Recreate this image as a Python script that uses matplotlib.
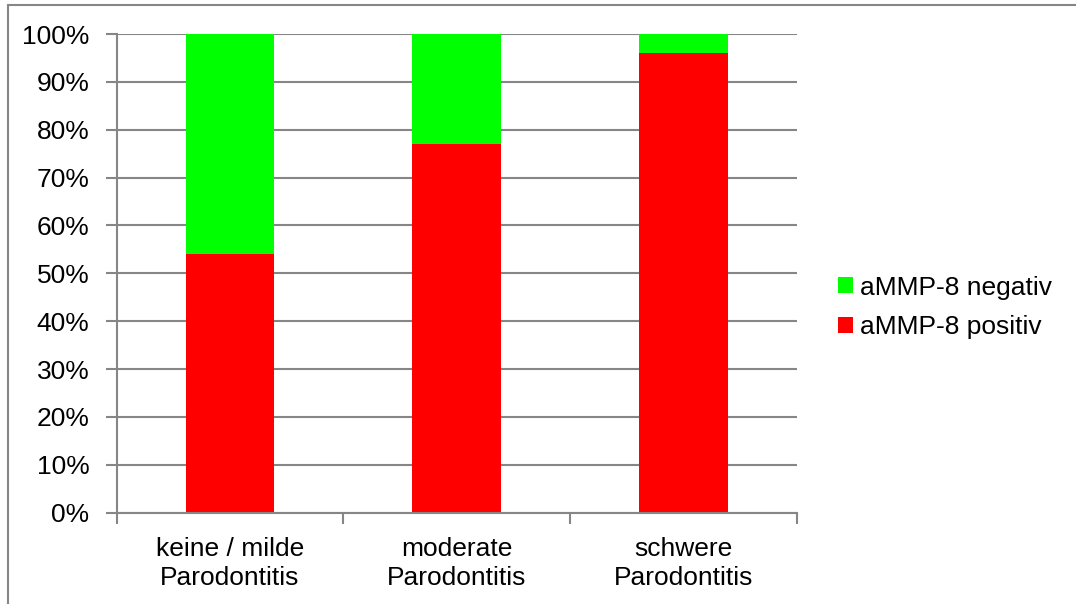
import matplotlib
matplotlib.use("Agg")
import matplotlib.pyplot as plt
from matplotlib.patches import Rectangle, Patch
from matplotlib.ticker import FixedLocator

categories = ["keine / milde\nParodontitis", "moderate\nParodontitis", "schwere\nParodontitis"]
positiv = [54, 77, 96]
negativ = [46, 23, 4]
yticks = [0, 10, 20, 30, 40, 50, 60, 70, 80, 90, 100]

plt.rcParams['font.family'] = ['Liberation Sans', 'DejaVu Sans']
fs = 19
grey = '#868686'

fig = plt.figure(figsize=(10.76, 6.04), dpi=100)
ax = fig.add_axes([116.7/1076, 91.3/604, 680/1076, 478.7/604])

x = list(range(len(categories)))
ax.bar(x, positiv, width=0.39, color='#FF0000', zorder=3)
ax.bar(x, negativ, width=0.39, bottom=positiv, color='#00FF00', zorder=3)

ax.set_xlim(-0.5, 2.5)
ax.set_ylim(0, 100)
ax.set_yticks(yticks)
ax.set_yticklabels([f"{v}%" for v in yticks], fontsize=fs)
ax.set_xticks(x)
ax.set_xticklabels(categories, fontsize=fs, linespacing=1.28)
ax.xaxis.set_minor_locator(FixedLocator([-0.5, 0.5, 1.5, 2.5]))
ax.tick_params(axis='x', which='major', length=0, pad=17.5)
ax.tick_params(axis='x', which='minor', length=8, width=1.5, color=grey)
ax.tick_params(axis='y', length=8, width=1.5, color=grey, pad=11.5)

ax.grid(axis='y', color=grey, linewidth=1.5, zorder=0)
ax.set_axisbelow(True)
for s in ['top', 'right']:
    ax.spines[s].set_visible(False)
for s in ['left', 'bottom']:
    ax.spines[s].set_color(grey)
    ax.spines[s].set_linewidth(1.5)
    ax.spines[s].set_zorder(4)

handles = [Patch(facecolor='#00FF00', label='aMMP-8 negativ'),
           Patch(facecolor='#FF0000', label='aMMP-8 positiv')]
fig.legend(handles=handles, loc='center left', bbox_to_anchor=(838/1076, (604-307.5)/604),
           frameon=False, fontsize=fs, handlelength=0.55, handleheight=0.55,
           handletextpad=0.3, labelspacing=0.6, borderpad=0, borderaxespad=0)

fig.patches.append(Rectangle((8/1076, -0.05), 1.0, (604-5)/604 + 0.05, transform=fig.transFigure,
                             fill=False, edgecolor=grey, linewidth=1.5))

fig.savefig("out.png", dpi=100)
